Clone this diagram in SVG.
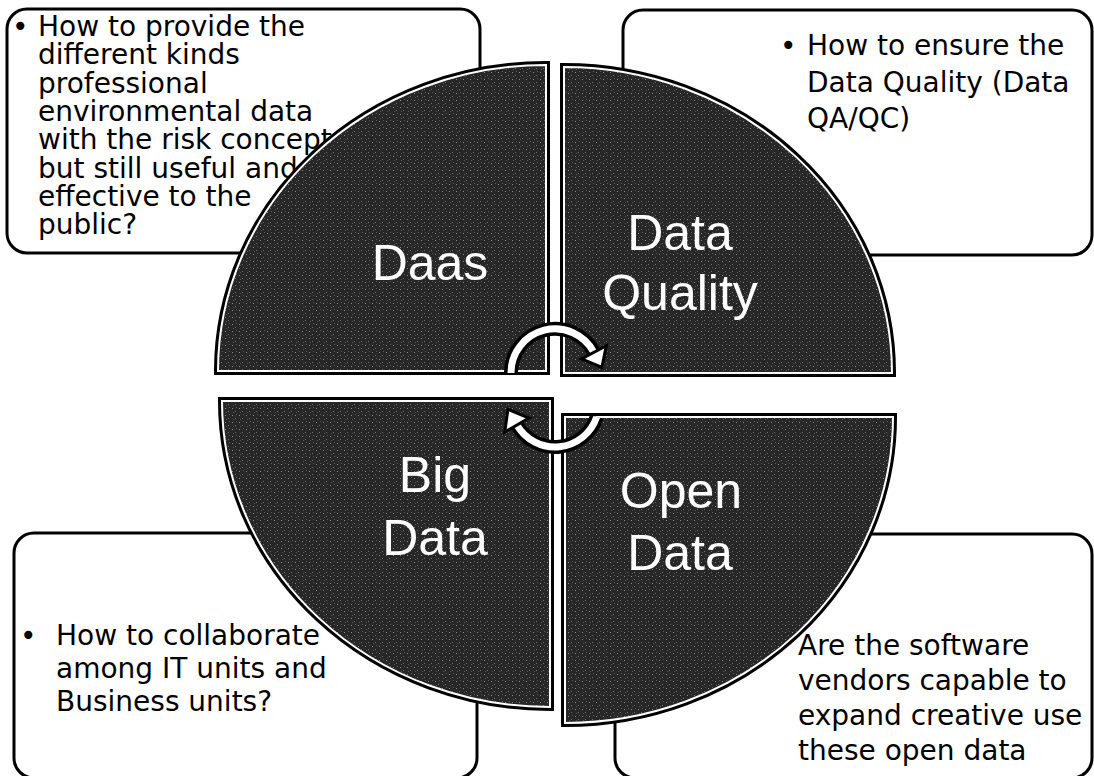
<svg xmlns="http://www.w3.org/2000/svg" width="1094" height="776" viewBox="0 0 1094 776">
<defs>
<pattern id="dither" width="7" height="7" patternUnits="userSpaceOnUse">
<rect width="7" height="7" fill="#272727"/>
<rect x="1" y="2" width="1" height="1" fill="#8a8a8a"/>
<rect x="4" y="5" width="1" height="1" fill="#6e6e6e"/>
<rect x="5" y="1" width="1" height="1" fill="#5a5a5a"/>
<rect x="2" y="6" width="1" height="1" fill="#555"/>
</pattern>
</defs>
<style>
.box{fill:#fff;stroke:#000;stroke-width:3}
.bt{font-family:"DejaVu Sans","Liberation Sans",sans-serif;font-size:28px;fill:#000}
.qo{fill:none;stroke:#000;stroke-width:8;stroke-linejoin:miter}
.q{fill:url(#dither);stroke:#fff;stroke-width:2}
.ql{font-family:"Liberation Sans",Arial,sans-serif;font-size:50px;fill:#fff;text-anchor:middle}
.ringo{fill:none;stroke:#000;stroke-width:14}
.ringi{fill:none;stroke:#fff;stroke-width:7}
.head{fill:#fff;stroke:#000;stroke-width:3;stroke-linejoin:miter}
</style>
<rect width="1094" height="776" fill="#fff"/>
<g id="box-daas">
<rect class="box" x="7" y="9" width="473" height="244" rx="20"/>
<text class="bt"><tspan x="12" y="36">•</tspan><tspan x="38" y="36">How to provide the</tspan><tspan x="38" y="64.3">different kinds</tspan><tspan x="38" y="92.6">professional</tspan><tspan x="38" y="120.9">environmental data</tspan><tspan x="38" y="149.2">with the risk concept</tspan><tspan x="38" y="177.5">but still useful and</tspan><tspan x="38" y="205.8">effective to the</tspan><tspan x="38" y="234">public?</tspan></text>
</g>
<g id="box-quality">
<rect class="box" x="623" y="10" width="469" height="245" rx="20"/>
<text class="bt"><tspan x="780" y="55">•</tspan><tspan x="807" y="55">How to ensure the</tspan><tspan x="807" y="92">Data Quality (Data</tspan><tspan x="807" y="128">QA/QC)</tspan></text>
</g>
<g id="box-bigdata">
<rect class="box" x="14" y="533" width="463" height="245" rx="20"/>
<text class="bt"><tspan x="20" y="645">•</tspan><tspan x="56" y="645">How to collaborate</tspan><tspan x="56" y="678">among IT units and</tspan><tspan x="56" y="711">Business units?</tspan></text>
</g>
<g id="box-opendata">
<rect class="box" x="615" y="534" width="477" height="244" rx="20"/>
<text class="bt"><tspan x="798" y="655">Are the software</tspan><tspan x="798" y="690">vendors capable to</tspan><tspan x="798" y="725">expand creative use</tspan><tspan x="798" y="760">these open data</tspan></text>
</g>
<g id="q-daas">
<path class="qo" d="M546,371 L546,65 A328,306 0 0 0 218,371 Z"/>
<path class="q" d="M546,371 L546,65 A328,306 0 0 0 218,371 Z"/>
<text class="ql" x="430" y="280">Daas</text>
</g>
<g id="q-quality">
<path class="qo" d="M564,373 L564,67 A328,306 0 0 1 892,373 Z"/>
<path class="q" d="M564,373 L564,67 A328,306 0 0 1 892,373 Z"/>
<text class="ql" x="680" y="250">Data</text>
<text class="ql" x="680" y="310">Quality</text>
</g>
<g id="q-bigdata">
<path class="qo" d="M550,401 L222,401 A328,306 0 0 0 550,707 Z"/>
<path class="q" d="M550,401 L222,401 A328,306 0 0 0 550,707 Z"/>
<text class="ql" x="435" y="492">Big</text>
<text class="ql" x="435" y="555">Data</text>
</g>
<g id="q-opendata">
<path class="qo" d="M565,417 L893,417 A328,306 0 0 1 565,723 Z"/>
<path class="q" d="M565,417 L893,417 A328,306 0 0 1 565,723 Z"/>
<text class="ql" x="681" y="508">Open</text>
<text class="ql" x="680" y="570">Data</text>
</g>
<g id="connectors">
<path class="ringo" d="M511,373 A44,44 0 0 1 593.9,352.3"/>
<path class="ringi" d="M511,373 A44,44 0 0 1 593.9,352.3"/>
<polygon class="head" points="606.3,345.7 601.9,367.3 581.5,358.9"/>
<path class="ringo" d="M596.7,417 A44,44 0 0 1 516.9,425"/>
<path class="ringi" d="M596.7,417 A44,44 0 0 1 516.9,425"/>
<polygon class="head" points="504.8,432 507.9,409.4 529,418"/>
</g>
</svg>
